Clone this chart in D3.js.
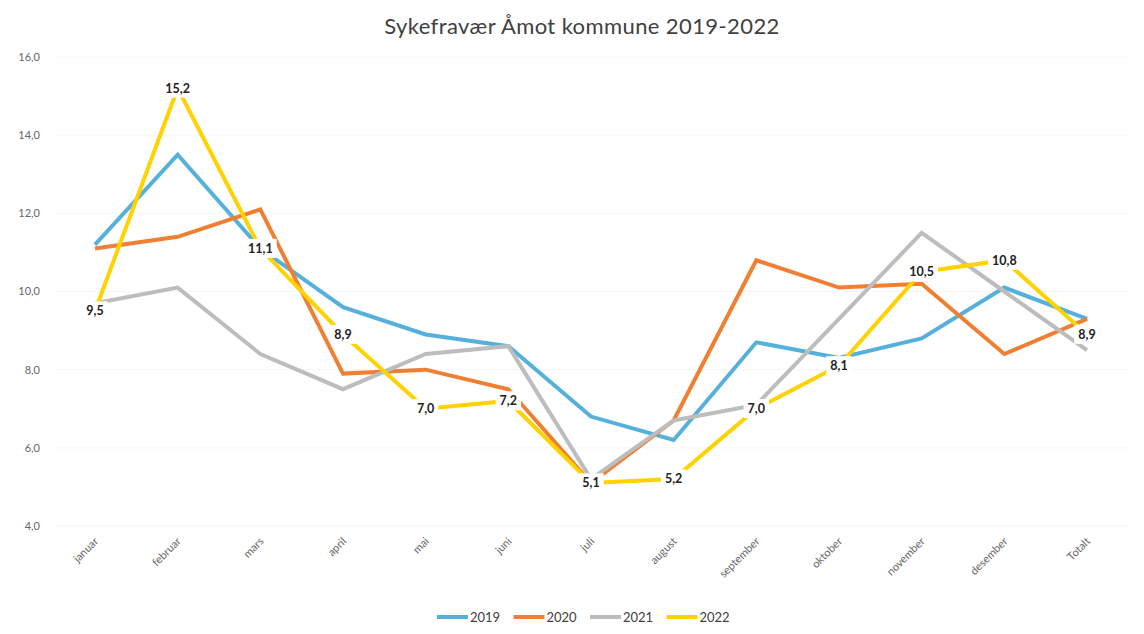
<!DOCTYPE html>
<html>
<head>
<meta charset="utf-8">
<script src="https://cdn.jsdelivr.net/npm/d3@7"></script>
<style>
  html, body { margin:0; padding:0; background:#fff; }
  svg { display:block; font-family: Lato, "Open Sans", sans-serif; }
</style>
</head>
<body>
<svg id="chart" width="1144" height="634"></svg>
<script>
const months = ["januar","februar","mars","april","mai","juni","juli","august","september","oktober","november","desember","Totalt"];
const years = ["2019","2020","2021","2022"];
const v2019 = [11.2, 13.5, 11.1, 9.6, 8.9, 8.6, 6.8, 6.2, 8.7, 8.3, 8.8, 10.1, 9.3];
const v2020 = [11.1, 11.4, 12.1, 7.9, 8.0, 7.5, 5.1, 6.7, 10.8, 10.1, 10.2, 8.4, 9.3];
const v2021 = [9.7, 10.1, 8.4, 7.5, 8.4, 8.6, 5.2, 6.7, 7.1, 9.3, 11.5, 10.0, 8.5];
const v2022 = [9.5, 15.2, 11.1, 8.9, 7.0, 7.2, 5.1, 5.2, 7.0, 8.1, 10.5, 10.8, 8.9];
const yTicks = [4, 6, 8, 10, 12, 14, 16];
const colors = ["#55b1dc", "#ef7f32", "#bdbdbd", "#ffd200"];

const series = [v2019, v2020, v2021, v2022].map((vals, i)=>({name: years[i], vals, color: colors[i]}));

const svg = d3.select("#chart");
const m = {l:54, r:16, t:56, b:108};
const W = 1144, H = 634;

const x = d3.scalePoint().domain(months).range([95, 1087]);
const y = d3.scaleLinear().domain([4, 16]).range([526, 57]);

// title
svg.append("text")
  .attr("x", 582).attr("y", 34)
  .attr("text-anchor","middle")
  .attr("font-size", 22)
  .attr("letter-spacing", 0.4)
  .attr("fill","#404040")
  .text("Sykefravær Åmot kommune 2019-2022");

// gridlines (very faint in the original)
svg.append("g").selectAll("line")
  .data(yTicks).enter().append("line")
  .attr("x1", m.l).attr("x2", W - m.r)
  .attr("y1", d=>y(d)).attr("y2", d=>y(d))
  .attr("stroke","#f6f6f6");

// y axis labels
svg.append("g").selectAll("text")
  .data(yTicks).enter().append("text")
  .attr("x", 40).attr("y", d=>y(d)).attr("dy","0.35em")
  .attr("text-anchor","end")
  .attr("font-size", 11)
  .attr("fill","#666")
  .text(d=>d.toFixed(1).replace(".", ","));

// x axis labels
svg.append("g").selectAll("text")
  .data(months).enter().append("text")
  .attr("transform", d=>`translate(${x(d)+4},${542}) rotate(-45)`)
  .attr("text-anchor","end")
  .attr("font-size", 11)
  .attr("fill","#666")
  .text(d=>d);

// lines
const line = d3.line().x((d,i)=>x(months[i])).y(d=>y(d));
svg.append("g").selectAll("path")
  .data(series).enter().append("path")
  .attr("d", d=>line(d.vals))
  .attr("fill","none")
  .attr("stroke", d=>d.color)
  .attr("stroke-width", 4)
  .attr("stroke-linejoin","miter");

// data labels for 2022
const lbl = svg.append("g").selectAll("g")
  .data(v2022).enter().append("g")
  .attr("transform", (d,i)=>`translate(${x(months[i])},${y(d)})`);
lbl.each(function(d, i){
  const g = d3.select(this);
  const t = g.append("text")
    .attr("text-anchor","middle").attr("dy","0.35em")
    .attr("font-size", 12.5).attr("font-weight","bold")
    .attr("fill","#222")
    .text(d.toFixed(1).replace(".", ","));
  const bb = t.node().getBBox();
  g.insert("rect","text")
    .attr("x", bb.x - 4).attr("y", bb.y - 2)
    .attr("width", bb.width + 8).attr("height", bb.height + 4)
    .attr("fill","#fff");
});

// legend
const legend = svg.append("g");
const lx = 437, ly = 617, step = 76.5;
series.forEach((s, i)=>{
  const g = legend.append("g").attr("transform", `translate(${lx + i*step},${ly})`);
  g.append("line").attr("x1", 0).attr("x2", 31).attr("y1", 0).attr("y2", 0)
    .attr("stroke", s.color).attr("stroke-width", 4);
  g.append("text").attr("x", 33).attr("dy","0.35em")
    .attr("font-size", 13).attr("fill","#404040")
    .text(s.name);
});
</script>
</body>
</html>
